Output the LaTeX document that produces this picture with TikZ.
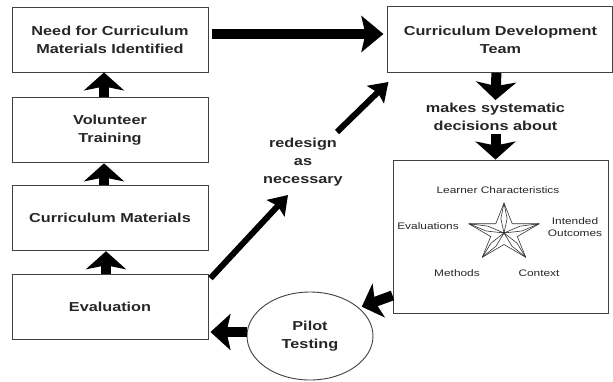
\documentclass[tikz,border=0pt]{standalone}
\usepackage{fontspec}
\newfontfamily\boxfont{Liberation Sans}[FakeStretch=1.25]
\usetikzlibrary{arrows.meta,positioning,shapes.geometric}

\begin{document}
\begin{tikzpicture}
  [
  x=1pt, y=-1pt,
  boxnode/.style={draw=black!75, line width=0.9pt, align=center, minimum width=196pt, minimum height=65pt, inner sep=2pt, text=black!85, font=\boxfont\bfseries\fontsize{13}{18}\selectfont},
  plaintext/.style={align=center, inner sep=1pt, text=black!85, font=\boxfont\bfseries\fontsize{13}{18}\selectfont},
  starlabel/.style={align=center, inner sep=1pt, text=black!85, font=\boxfont\fontsize{9.5}{12}\selectfont},
  starline/.style={draw=black!80, line width=0.6pt, line join=round},
  bigarrow/.style={draw, -{Stealth[length=18pt, width=40pt, inset=4pt]}, line width=10pt},
  thinarrow/.style={draw, -{Stealth[length=18pt, width=24pt, inset=3pt]}, line width=6pt}
  ]
  \useasboundingbox (0,0) rectangle (613,381);

  % left column
  \node[boxnode] (need) at (110,39.5) {Need for Curriculum\\Materials Identified};
  \node[boxnode, below=25pt of need] (volunteer) {Volunteer\\Training};
  \node[boxnode, below=22pt of volunteer] (materials) {Curriculum Materials};
  \node[boxnode, below=23pt of materials] (evaluation) {Evaluation};

  % right column
  \node[boxnode, minimum width=225pt, minimum height=66pt, right=179pt of need] (cdt) {Curriculum Development\\Team};
  \node[plaintext, inner sep=3pt] (makes) at (495.5,117) {makes systematic\\decisions about};
  \node[boxnode, minimum width=215pt, minimum height=153pt] (starbox) at (500.5,236.5) {};
  \node[plaintext, draw=black!75, line width=0.9pt, ellipse, minimum width=126pt, minimum height=88pt, inner sep=0pt] (pilot) at (310,336) {Pilot\\Testing};
  \node[plaintext] (redesign) at (303,162) {redesign\\as\\necessary};

  % star inside the box
  \node[starlabel] (learner) at (498,190) {Learner Characteristics};
  \node[starlabel] (evals) at (428,226) {Evaluations};
  \node[starlabel] (outcomes) at (575,227) {Intended\\Outcomes};
  \node[starlabel] (methods) at (457,273) {Methods};
  \node[starlabel] (context) at (539,273) {Context};
  \draw[starline] ({504+14*cos(54)},{233-11.5*sin(54)})
    \foreach \a in {90,162,234,306,18} {
      -- ({504+37*cos(\a)},{233-30*sin(\a)}) -- ({504+14*cos(\a+36)},{233-11.5*sin(\a+36)})
    } -- cycle;
  \foreach \a in {90,162,234,306,18}
    \draw[starline] (504,233) -- ({504+18*cos(\a+10)},{233-14.5*sin(\a+10)})
      -- ({504+37*cos(\a)},{233-30*sin(\a)}) -- ({504+18*cos(\a-10)},{233-14.5*sin(\a-10)}) -- cycle;
  \fill[black!80] (504,233) circle (1.3pt);

  % connectors
  \draw[bigarrow, -{Stealth[length=22pt, width=36pt, inset=4pt]}, shorten <=4pt, shorten >=4pt]
    (need.east |- 0,34) -- (cdt.west |- 0,34);
  \draw[bigarrow] ([xshift=-6pt]volunteer.north) -- ([xshift=-6pt]need.south);
  \draw[bigarrow] ([xshift=-6pt]materials.north) -- ([xshift=-6pt]volunteer.south);
  \draw[bigarrow] ([xshift=-4pt]evaluation.north) -- ([xshift=-4pt]materials.south);
  \draw[bigarrow] ([xshift=-4pt]cdt.south) -- (makes.north);
  \draw[bigarrow] (makes.south) -- ([xshift=-5pt]starbox.north);
  \draw[thinarrow] ([shift={(2,4)}]evaluation.north east) -- ([shift={(-15,33)}]redesign.center);
  \draw[thinarrow] ([shift={(34,-30)}]redesign.center) -- ([shift={(1,9)}]cdt.south west);
  \draw[bigarrow, -{Stealth[length=18pt, width=36pt, inset=4pt]}, shorten >=3pt]
    ([shift={(0,-18)}]starbox.south west) -- (pilot.30);
  \draw[bigarrow, -{Stealth[length=20pt, width=36pt, inset=4pt]}, shorten >=2pt]
    ([shift={(0,-4)}]pilot.west) -- ([shift={(0,-4)}]pilot.west -| evaluation.east);
\end{tikzpicture}
\end{document}
